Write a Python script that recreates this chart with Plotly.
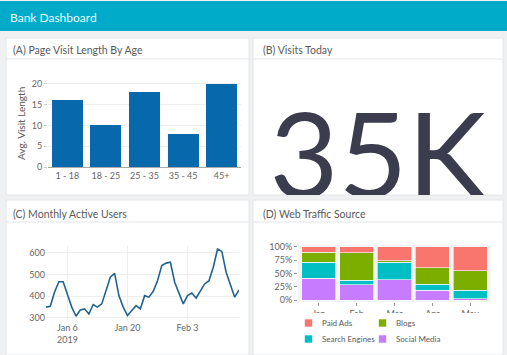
import plotly.graph_objects as go
import pandas as pd

W, H = 507, 355

# ---------------- data ----------------
age_groups = ["1 - 18", "18 - 25", "25 - 35", "35 - 45", "45+"]
visit_length = [16, 10, 18, 8, 20]

visits_today = "35K"

mau_start = "2019-01-01"
mau_values = [350, 354, 420, 467, 467, 410, 350, 308, 337, 342, 318, 362, 350, 365,
              427, 488, 506, 403, 350, 311, 334, 357, 342, 403, 396, 423, 472, 542,
              553, 557, 465, 411, 365, 403, 415, 392, 423, 457, 472, 534, 618, 607,
              511, 457, 396, 430]
mau_dates = pd.date_range(mau_start, periods=len(mau_values), freq="D")

months = ["Jan", "Feb", "Mar", "Apr", "May"]
social_media = [41, 29, 38, 19, 3]
search_engines = [30, 8, 33, 11, 16]
blogs = [19, 52, 3, 31, 36]
paid_ads = [10, 11, 26, 39, 45]

source_names = ["Paid Ads", "Blogs", "Search Engines", "Social Media"]
source_colors = ["#F8766D", "#7CAE00", "#00BFC4", "#C77CFF"]

# ---------------- helpers ----------------
def px(x):
    return x / W


def py(y):
    return 1 - y / H


FONT = "Lato"
TXT = "#5a5a5a"

fig = go.Figure()

# (A) bar chart
fig.add_trace(go.Bar(x=age_groups, y=visit_length, marker_color="#0868ac",
                     xaxis="x", yaxis="y", showlegend=False))

# (B) big number, clipped by the subplot
fig.add_trace(go.Scatter(x=[0.5], y=[-0.16], mode="text", text=[visits_today],
                         textposition="middle center", cliponaxis=True,
                         textfont=dict(family=FONT, size=119, color="#3b3c4e"),
                         xaxis="x2", yaxis="y2", showlegend=False, hoverinfo="skip"))

# (C) line chart
fig.add_trace(go.Scatter(x=mau_dates, y=mau_values, mode="lines",
                         line=dict(color="#22648f", width=1.6),
                         xaxis="x3", yaxis="y3", showlegend=False))

# (D) stacked bars (bottom first)
series = {"Paid Ads": paid_ads, "Blogs": blogs,
          "Search Engines": search_engines, "Social Media": social_media}
colors = dict(zip(source_names, source_colors))
for name in ["Social Media", "Search Engines", "Blogs", "Paid Ads"]:
    fig.add_trace(go.Bar(x=months, y=series[name], name=name, marker_color=colors[name],
                         marker_line=dict(color="white", width=0.6), width=0.9,
                         xaxis="x4", yaxis="y4", showlegend=False))

# ---------------- shapes ----------------
shapes = []
shapes.append(dict(type="rect", xref="paper", yref="paper", x0=0, x1=1,
                   y0=py(31), y1=py(1), fillcolor="#00abca", line_width=0, layer="below"))
for (x0, y0, x1, y1) in [(6, 38, 249, 195), (253, 38, 503, 195),
                         (6, 200, 249, 355), (253, 200, 503, 355)]:
    shapes.append(dict(type="rect", xref="paper", yref="paper", x0=px(x0), x1=px(x1),
                       y0=py(y1), y1=py(y0), fillcolor="white",
                       line=dict(color="#e4e6e8", width=1), layer="below"))
for (x0, x1, y) in [(6, 249, 59), (253, 503, 59), (6, 249, 222), (253, 503, 222)]:
    shapes.append(dict(type="line", xref="paper", yref="paper", x0=px(x0), x1=px(x1),
                       y0=py(y), y1=py(y), line=dict(color="#e4e6e8", width=1), layer="below"))
shapes.append(dict(type="rect", xref="paper", yref="paper", x0=px(298), x1=px(491),
                   y0=py(302), y1=py(245), fillcolor="#f4f4f4", line_width=0, layer="below"))
# legend box (white, partly hiding the month labels as in the original)
shapes.append(dict(type="rect", xref="paper", yref="paper", x0=px(258), x1=px(500),
                   y0=py(354), y1=py(313), fillcolor="white", line_width=0, layer="above"))

# ---------------- annotations ----------------
ann = []
ann.append(dict(text="Bank Dashboard", x=px(8), y=py(17), xref="paper", yref="paper",
                xanchor="left", yanchor="middle", showarrow=False,
                font=dict(family=FONT, size=12, color="#e9fbff")))
for t, x, y in [("(A) Page Visit Length By Age", 11, 49.5), ("(B) Visits Today", 261, 49.5),
                ("(C) Monthly Active Users", 11, 214), ("(D) Web Traffic Source", 261, 214)]:
    ann.append(dict(text=t, x=px(x), y=py(y), xref="paper", yref="paper",
                    xanchor="left", yanchor="middle", showarrow=False,
                    font=dict(family=FONT, size=10.5, color=TXT)))
ann.append(dict(text="Avg. Visit Length", x=px(21), y=py(124), xref="paper", yref="paper",
                textangle=-90, xanchor="center", yanchor="middle", showarrow=False,
                font=dict(family=FONT, size=10, color=TXT)))

# custom 2x2 legend for panel D
leg_pos = [(308.5, 323), (382.5, 323), (308.5, 339), (382.5, 339)]
for name, col, (cx, cy) in zip(source_names, source_colors, leg_pos):
    shapes.append(dict(type="rect", xref="paper", yref="paper",
                       x0=px(cx - 3.7), x1=px(cx + 3.7), y0=py(cy + 3.7), y1=py(cy - 3.7),
                       fillcolor=col, line_width=0, layer="above"))
    ann.append(dict(text=name, x=px(cx + 11.5), y=py(cy), xref="paper", yref="paper",
                    xanchor="left", yanchor="middle", showarrow=False,
                    font=dict(family=FONT, size=8, color=TXT)))

tickfont = dict(family=FONT, size=9, color="#666666")
grid = "#eeeeee"

fig.update_layout(
    template="none",
    width=W, height=H, autosize=False, margin=dict(l=0, r=0, t=0, b=0, pad=0),
    paper_bgcolor="#eef0f2", plot_bgcolor="rgba(0,0,0,0)",
    shapes=shapes, annotations=ann, barmode="stack", showlegend=False,
    font=dict(family=FONT, color=TXT),
    xaxis=dict(domain=[px(48), px(241)], anchor="y", tickfont=tickfont, automargin=False,
               showline=True, linecolor="#aaaaaa", linewidth=1, ticks="", showgrid=False),
    yaxis=dict(domain=[py(167), py(78)], anchor="x", range=[0, 21.4], dtick=5,
               automargin=False, tickfont=tickfont, gridcolor=grid, zeroline=False,
               ticks="outside", ticklen=3, tickcolor="#cccccc", showline=False),
    xaxis2=dict(domain=[px(253), px(503)], anchor="y2", range=[0, 1], visible=False,
                automargin=False),
    yaxis2=dict(domain=[py(195), py(60)], anchor="x2", range=[-0.45, 1], visible=False,
                automargin=False),
    xaxis3=dict(domain=[px(46), px(239)], anchor="y3", automargin=False,
                range=[mau_dates[0], mau_dates[-1]], tick0="2019-01-06",
                dtick=14 * 86400000, tickfont=tickfont, gridcolor=grid, ticks="",
                showline=False, zeroline=False),
    yaxis3=dict(domain=[py(321), py(246)], anchor="x3", range=[286, 632], dtick=100,
                automargin=False, tickfont=tickfont, gridcolor=grid, zeroline=False,
                ticks="", showline=False),
    xaxis4=dict(domain=[px(298), px(491)], anchor="y4", range=[-0.55, 4.55],
                automargin=False, tickfont=tickfont, ticks="outside", ticklen=3,
                tickcolor="#999999", showgrid=False, showline=False, zeroline=False),
    yaxis4=dict(domain=[py(302), py(245)], anchor="x4", range=[-3.5, 103.5],
                automargin=False,
                tickvals=[0, 25, 50, 75, 100], ticktext=["0%", "25%", "50%", "75%", "100%"],
                tickfont=tickfont, ticks="outside", ticklen=3, tickcolor="#999999",
                showgrid=False, zeroline=False, showline=False),
    bargap=0.2,
)

fig.write_html(
    "out.html",
    config={"responsive": False, "displayModeBar": False},
    post_script="document.body.style.margin='0';document.body.style.overflow='hidden';",
)
